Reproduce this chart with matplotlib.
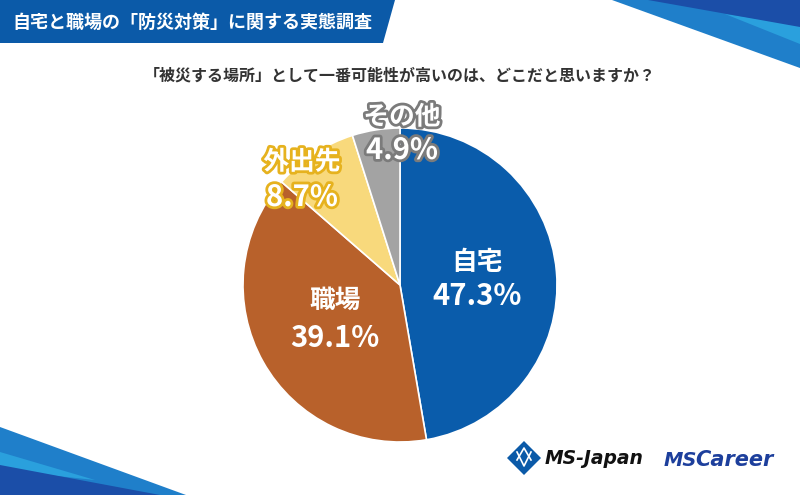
import matplotlib.pyplot as plt
import matplotlib.patheffects as pe
from matplotlib.patches import Polygon

plt.rcParams['font.family'] = ['Noto Sans CJK JP', 'DejaVu Sans']

# data
title = "自宅と職場の「防災対策」に関する実態調査"
question = "「被災する場所」として一番可能性が高いのは、どこだと思いますか？"
labels = ["自宅", "職場", "外出先", "その他"]
values = [47.3, 39.1, 8.7, 4.9]
colors = ["#0a5cab", "#b8612b", "#f8d97c", "#a3a3a3"]

W, H = 800, 495
fig = plt.figure(figsize=(8, 4.95), dpi=100)
ax = fig.add_axes([0, 0, 1, 1])
ax.set_xlim(0, W)
ax.set_ylim(0, H)
ax.axis("off")


def poly(pts, color, z=1):
    # pixel coords with y going down
    ax.add_patch(Polygon([(x, H - y) for x, y in pts], closed=True,
                         facecolor=color, edgecolor="none", zorder=z))


# corner decorations
poly([(612, 0), (800, 0), (800, 68)], "#1f7fca")
poly([(725, 14), (800, 25), (800, 44)], "#2aa0dd", 2)
poly([(648, 0), (800, 0), (800, 27)], "#1b4ea8", 3)
poly([(0, 427), (186, 495), (0, 495)], "#1f7fca")
poly([(0, 452), (95, 480), (0, 470)], "#2aa0dd", 2)
poly([(0, 465), (160, 495), (0, 495)], "#1b4ea8", 3)

# title banner
poly([(0, 0), (395, 0), (383, 43), (0, 43)], "#0b5aa8", 4)
ax.text(12, H - 22, title, color="white", fontsize=13, fontweight="bold",
        va="center", ha="left", zorder=5)

ax.text(400, H - 76, question, color="#333333", fontsize=11.5,
        fontweight="bold", ha="center", va="center")

# pie
ax.pie(values, colors=colors, startangle=90, counterclock=False,
       center=(400, H - 285), radius=157, frame=True,
       wedgeprops=dict(edgecolor="white", linewidth=1.2))
ax.set_xlim(0, W)
ax.set_ylim(0, H)
ax.set_aspect("auto")
ax.axis("off")

# slice labels
label_pos = [(477, 263, 296), (335, 300, 338), (302, 162, 197), (402, 117, 150)]
outline = [None, None, "#e6b21e", "#7b7b7b"]
for lab, v, (x, y1, y2), oc in zip(labels, values, label_pos, outline):
    fx = [pe.withStroke(linewidth=4, foreground=oc)] if oc else None
    ax.text(x, H - y1, lab, color="white", fontsize=18.5, fontweight="bold",
            ha="center", va="center", path_effects=fx, zorder=6)
    ax.text(x, H - y2, f"{v}%", color="white", fontsize=21, fontweight="bold",
            ha="center", va="center", path_effects=fx, zorder=6)

# logos
poly([(524, 441), (541, 458), (524, 475), (507, 458)], "#0b5aa8", 5)
ax.plot([517, 524, 531], [H - 452, H - 466, H - 452], color="white", lw=1.2, zorder=6)
ax.plot([517, 524, 531], [H - 460, H - 448, H - 460], color="white", lw=1.2, zorder=6)
ax.text(545, H - 459, "MS-Japan", color="#111111", fontsize=13.5,
        fontweight="bold", fontstyle="italic", family="DejaVu Sans",
        ha="left", va="center")
ax.text(664, H - 460, "MS", color="#1d3f9c", fontsize=14, fontweight="bold",
        fontstyle="italic", family="DejaVu Sans", ha="left", va="center")
ax.text(695, H - 460, "Career", color="#1d3f9c", fontsize=15,
        fontweight="bold", fontstyle="italic", family="DejaVu Sans",
        ha="left", va="center")

fig.savefig("out.png", dpi=100)
